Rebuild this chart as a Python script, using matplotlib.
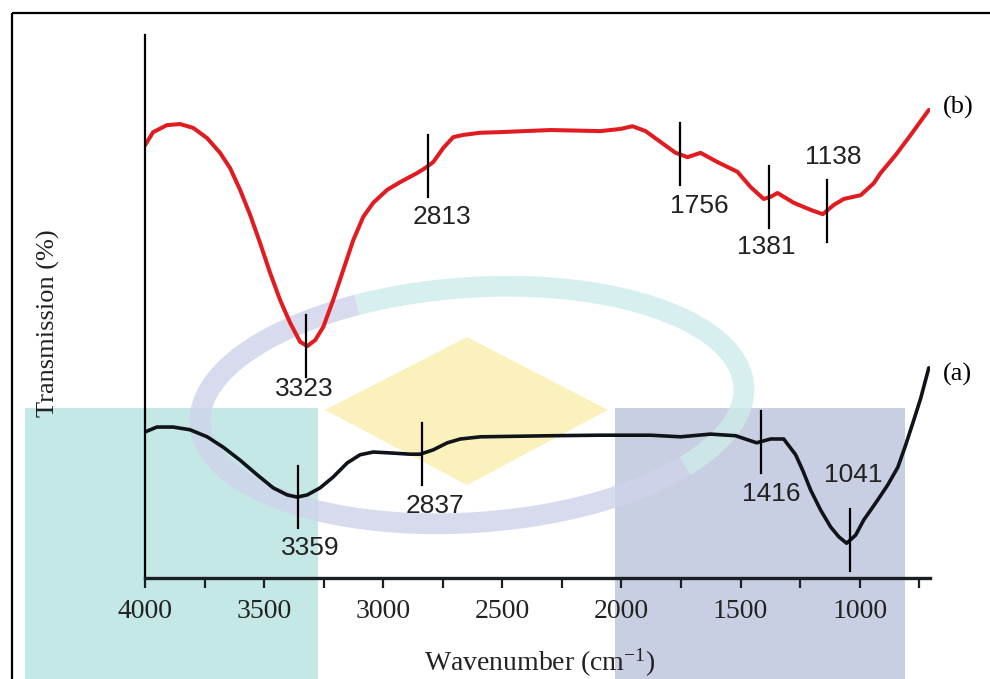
import numpy as np
import matplotlib
matplotlib.use("Agg")
import matplotlib.pyplot as plt
from matplotlib.patches import Rectangle, Polygon, Arc

# ---------------- data ----------------
wn_b = [4000, 3966, 3908, 3853, 3798, 3739, 3685, 3643, 3601, 3559, 3517, 3475,
        3433, 3391, 3349, 3319, 3286, 3252, 3210, 3168, 3126, 3084, 3042, 2983,
        2929, 2857, 2824, 2790, 2748, 2706, 2664, 2592, 2517, 2298, 2088, 2004,
        1954, 1899, 1836, 1773, 1723, 1668, 1597, 1513, 1458, 1403, 1374, 1345,
        1277, 1206, 1155, 1109, 1067, 996, 941, 912, 849, 786, 710]
T_b = [79.7, 82.1, 83.4, 83.6, 82.9, 81.0, 78.3, 75.5, 71.5, 66.9, 61.7, 56.2,
       51.2, 47.0, 43.5, 42.7, 43.8, 46.2, 51.2, 56.7, 62.2, 66.5, 69.1, 71.5,
       72.9, 74.6, 75.5, 76.6, 79.2, 81.2, 81.6, 82.0, 82.1, 82.5, 82.3, 82.7,
       83.2, 82.3, 80.3, 78.3, 77.5, 78.3, 76.6, 74.8, 72.0, 69.8, 70.2, 70.9,
       69.1, 67.8, 67.0, 68.7, 69.8, 70.5, 72.7, 74.6, 77.9, 81.6, 86.2]

wn_a = [4000, 3950, 3882, 3811, 3739, 3672, 3601, 3529, 3462, 3403, 3361, 3319,
        3265, 3210, 3151, 3097, 3042, 2958, 2887, 2845, 2790, 2731, 2676, 2592,
        2298, 2088, 1878, 1752, 1626, 1521, 1433, 1374, 1319, 1269, 1240, 1206,
        1164, 1122, 1088, 1055, 1017, 983, 954, 924, 883, 840, 807, 773, 744, 710]
T_a = [26.9, 27.8, 27.8, 27.3, 26.0, 24.1, 21.7, 19.0, 16.6, 15.3, 14.9, 15.3,
       16.6, 18.6, 21.2, 22.7, 23.2, 23.0, 22.8, 22.8, 23.6, 24.9, 25.6, 26.0,
       26.2, 26.3, 26.3, 26.0, 26.5, 26.2, 24.9, 25.6, 25.6, 22.7, 19.9, 16.2,
       12.5, 9.4, 7.6, 6.4, 7.9, 10.7, 12.5, 14.4, 17.1, 20.4, 24.5, 29.1, 33.1, 38.7]

peaks_b = [3323, 2813, 1756, 1381, 1138]
peaks_a = [3359, 2837, 1416, 1041]
series_names = ["(a)", "(b)"]
x_ticks = [4000, 3500, 3000, 2500, 2000, 1500, 1000]
x_label = "Wavenumber (cm$^{\\mathregular{-1}}$)"
y_label = "Transmission (%)"

# ---------------- layout / style ----------------
# label placement per peak: (dx px, side, distance px from marker end)
place_b = [(-2, "below", 12), (14, "below", 20), (20, "below", 21),
           (-3, "below", 19), (6, "above", 23)]
place_a = [(13, "below", 20), (13, "below", 21), (11, "below", 21),
           (3, "above", 34)]
half_len = 5.7  # marker half length in data units

W, H = 990, 679
fig = plt.figure(figsize=(W / 100, H / 100), dpi=100)
plt.rcParams["mathtext.fontset"] = "stix"

# background decoration (watermark-like shapes) in pixel coordinates
bg = fig.add_axes([0, 0, 1, 1], zorder=0)
bg.set_xlim(0, W)
bg.set_ylim(H, 0)
bg.axis("off")
bg.add_patch(Rectangle((25, 408), 293, 300, facecolor="#c4e8e6", edgecolor="none"))
bg.add_patch(Rectangle((615, 408), 290, 300, facecolor="#c9cfe3", edgecolor="none"))
bg.add_patch(Polygon([(325, 410), (467, 337), (608, 410), (467, 485)],
                     closed=True, facecolor="#fbf0b6", edgecolor="none", alpha=0.9))
bg.add_patch(Arc((472, 405), 545, 235, angle=-4, theta1=-135, theta2=20,
                 color="#cdecea", lw=15, alpha=0.8))
bg.add_patch(Arc((472, 405), 545, 235, angle=-4, theta1=20, theta2=225,
                 color="#cfd3ea", lw=15, alpha=0.8))
bg.add_patch(Rectangle((12, 13), 1100, 1000, facecolor="none", edgecolor="black",
                       lw=1.6))

ax = fig.add_axes([145 / W, 1 - 578 / H, (930 - 145) / W, (578 - 35) / H], zorder=1)
ax.patch.set_alpha(0)
ax.set_xlim(4000, 705)
ax.set_ylim(0, 100)

ax.plot(wn_b, T_b, color="#e11b1f", lw=2.9, solid_capstyle="round",
        solid_joinstyle="round")
ax.plot(wn_a, T_a, color="#101418", lw=2.6, solid_capstyle="round",
        solid_joinstyle="round")

num_font = dict(family=["Liberation Sans", "DejaVu Sans"], fontsize=19, color="#222222")


def draw_peaks(wn, T, peaks, place):
    xs = np.array(wn)[::-1]
    ys = np.array(T)[::-1]
    for p, (dx, side, dist) in zip(peaks, place):
        yc = float(np.interp(p, xs, ys))
        y0, y1 = yc - half_len, yc + half_len
        ax.plot([p, p], [y0, y1], color="black", lw=1.6)
        if side == "below":
            ax.annotate(str(p), (p, y0), xytext=(dx, -dist), textcoords="offset pixels",
                        ha="center", va="center", **num_font)
        else:
            ax.annotate(str(p), (p, y1), xytext=(dx, dist), textcoords="offset pixels",
                        ha="center", va="center", **num_font)


draw_peaks(wn_b, T_b, peaks_b, place_b)
draw_peaks(wn_a, T_a, peaks_a, place_a)

serif = ["Liberation Serif", "DejaVu Serif"]
ax.annotate(series_names[1], (wn_b[-1], T_b[-1]), xytext=(29, 2), textcoords="offset pixels",
            ha="center", va="center", family=serif, fontsize=19)
ax.annotate(series_names[0], (wn_a[-1], T_a[-1]), xytext=(29, -7), textcoords="offset pixels",
            ha="center", va="center", family=serif, fontsize=19)

for s in ["top", "right"]:
    ax.spines[s].set_visible(False)
ax.spines["left"].set_linewidth(1.6)
ax.spines["bottom"].set_linewidth(2.4)
ax.spines["bottom"].set_color("#1a1f24")
ax.set_yticks([])
ax.set_xticks(x_ticks)
ax.set_xticks(np.arange(3750, 700, -500), minor=True)
ax.tick_params(axis="x", which="both", direction="out", length=7, width=1.6,
               pad=8, colors="#1a1f24")
for lab in ax.get_xticklabels():
    lab.set_family(serif)
    lab.set_fontsize(20)
    lab.set_color("#222222")

fig.text(540 / W, 1 - 663 / H, x_label, ha="center", va="center", family=serif,
         fontsize=20, color="#222222")
fig.text(48 / W, 1 - 323 / H, y_label, ha="center", va="center", rotation=90,
         family=serif, fontsize=19, color="#222222")

fig.savefig("out.png", dpi=100)
